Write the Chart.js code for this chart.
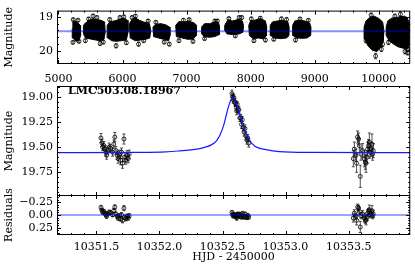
<!DOCTYPE html>
<html lang="en">
<head>
<meta charset="UTF-8">
<title>LMC503.08.18967</title>
<script src="https://cdn.jsdelivr.net/npm/chart.js"></script>
<style>
  html, body { margin: 0; padding: 0; background: #fff; overflow: hidden; }
  #wrap { position: relative; width: 415px; height: 266px; }
  #wrap canvas { position: absolute; left: 0; top: 0; }
</style>
</head>
<body>
<div id="wrap">
  <canvas id="lcFull" width="415" height="266"></canvas>
  <canvas id="lcZoom" width="415" height="266"></canvas>
  <canvas id="lcRes" width="415" height="266"></canvas>
</div>
<script>
// ---- full light curve (HJD - 2450000, magnitude) ----
// each observing season is so dense it reads as a black blob, so it is kept as an outline
const seasonOutlines = [
  [[5215,19.35],[5225,19.15],[5260,19.12],[5300,19.17],[5340,19.25],[5345,19.55],[5320,19.70],[5270,19.72],[5225,19.62]],
  [[5390,19.25],[5420,19.18],[5480,19.10],[5530,19.06],[5600,19.08],[5660,19.10],[5720,19.15],[5730,19.45],[5710,19.66],[5650,19.70],[5580,19.68],[5500,19.65],[5420,19.62],[5392,19.50]],
  [[5760,19.25],[5800,19.15],[5870,19.12],[5950,19.08],[6020,19.04],[6075,19.10],[6085,19.45],[6060,19.68],[5980,19.70],[5900,19.72],[5830,19.70],[5770,19.62]],
  [[6105,19.20],[6150,19.08],[6200,19.02],[6260,19.10],[6330,19.15],[6420,19.20],[6440,19.40],[6425,19.62],[6360,19.66],[6280,19.68],[6200,19.70],[6120,19.62]],
  [[6475,19.30],[6520,19.22],[6600,19.20],[6680,19.24],[6735,19.30],[6740,19.55],[6720,19.70],[6640,19.66],[6560,19.62],[6485,19.58]],
  [[6830,19.25],[6880,19.14],[6960,19.15],[7040,19.13],[7120,19.18],[7155,19.25],[7150,19.55],[7100,19.65],[7020,19.66],[6930,19.62],[6840,19.58]],
  [[7235,19.30],[7280,19.20],[7360,19.20],[7440,19.15],[7500,19.18],[7515,19.30],[7510,19.52],[7440,19.58],[7360,19.60],[7270,19.58],[7238,19.50]],
  [[7595,19.25],[7640,19.10],[7720,19.12],[7800,19.08],[7870,19.12],[7888,19.25],[7880,19.45],[7820,19.50],[7720,19.52],[7630,19.50],[7598,19.40]],
  [[7970,19.25],[8000,19.12],[8060,19.10],[8150,19.05],[8230,19.12],[8250,19.30],[8245,19.55],[8200,19.65],[8120,19.62],[8040,19.64],[7980,19.55]],
  [[8305,19.25],[8340,19.15],[8420,19.12],[8500,19.10],[8580,19.15],[8600,19.30],[8598,19.55],[8560,19.62],[8470,19.64],[8380,19.62],[8310,19.55]],
  [[8655,19.25],[8690,19.12],[8760,19.10],[8840,19.12],[8920,19.18],[8940,19.30],[8935,19.55],[8880,19.62],[8800,19.63],[8720,19.62],[8660,19.55]],
  [[9770,19.30],[9800,19.12],[9860,19.02],[9930,18.98],[10000,19.05],[10060,19.15],[10080,19.40],[10070,19.70],[10030,19.90],[9970,20.02],[9900,19.98],[9830,19.85],[9780,19.65]],
  [[10115,19.30],[10140,19.12],[10200,19.04],[10270,19.02],[10330,19.00],[10400,18.98],[10440,19.02],[10470,19.15],[10470,19.85],[10440,19.95],[10380,19.92],[10300,19.88],[10230,19.80],[10160,19.70],[10118,19.55]]
];
// points sticking out of the blobs
const fullDays = [5225, 5230, 5305, 5320, 5420, 5470, 5540, 5600, 5650, 5700, 5800, 5900, 5960, 6020, 6060,
                  6150, 6200, 6250, 6330, 6400, 6520, 6650, 6730, 6880, 6950, 7040, 7100, 7280, 7440, 7480,
                  7660, 7760, 7820, 7860, 8010, 8050, 8150, 8230, 8360, 8480, 8560, 8700, 8770, 8900,
                  9800, 9880, 9950, 10040, 10060, 10150, 10250, 10337, 10410, 10450, 10460];
const fullMags = [19.75, 19.08, 19.10, 19.72, 19.70, 19.06, 18.98, 19.02, 19.78, 19.74, 19.08, 19.85, 19.02, 19.00, 19.76,
                  19.02, 18.98, 19.80, 19.70, 19.12, 19.16, 19.74, 19.80, 19.70, 19.10, 19.08, 19.72, 19.64, 19.12, 19.12,
                  19.05, 19.56, 19.02, 19.02, 19.06, 19.70, 19.04, 19.68, 19.66, 19.06, 19.08, 19.68, 19.06, 19.10,
                  19.70, 18.95, 20.15, 19.95, 19.80, 19.75, 18.98, 18.92, 20.02, 20.05, 19.96];
const fullErrs = [0.04, 0.04, 0.04, 0.04, 0.05, 0.04, 0.06, 0.05, 0.06, 0.05, 0.05, 0.06, 0.05, 0.05, 0.05,
                  0.05, 0.05, 0.06, 0.05, 0.04, 0.04, 0.05, 0.05, 0.05, 0.05, 0.04, 0.05, 0.04, 0.04, 0.04,
                  0.04, 0.04, 0.05, 0.05, 0.05, 0.05, 0.05, 0.05, 0.04, 0.05, 0.05, 0.05, 0.04, 0.04,
                  0.06, 0.06, 0.08, 0.07, 0.07, 0.06, 0.06, 0.07, 0.07, 0.07, 0.06];
const fullBaseline = 19.42;

// ---- zoom on the event: three nights ----
const hjdA = [10351.536, 10351.544, 10351.549, 10351.559, 10351.567, 10351.575, 10351.581, 10351.591, 10351.601, 10351.612, 10351.628, 10351.638, 10351.646, 10351.654, 10351.665, 10351.672, 10351.680, 10351.691, 10351.699, 10351.707, 10351.718, 10351.725, 10351.733, 10351.744, 10351.752, 10351.760];
const magA = [19.41, 19.46, 19.50, 19.485, 19.52, 19.55, 19.58, 19.535, 19.50, 19.51, 19.55, 19.47, 19.40, 19.535, 19.58, 19.615, 19.57, 19.63, 19.55, 19.66, 19.42, 19.60, 19.63, 19.58, 19.615, 19.57];
const errA = [0.045, 0.035, 0.035, 0.04, 0.035, 0.04, 0.04, 0.035, 0.04, 0.035, 0.04, 0.04, 0.045, 0.04, 0.04, 0.045, 0.04, 0.045, 0.04, 0.05, 0.05, 0.045, 0.04, 0.045, 0.04, 0.04];
const resA = [-0.145, -0.095, -0.055, -0.07, -0.035, -0.005, 0.025, -0.02, -0.055, -0.045, -0.005, -0.085, -0.155, -0.02, 0.025, 0.06, 0.015, 0.075, -0.005, 0.105, -0.135, 0.045, 0.075, 0.025, 0.06, 0.015];

const hjdB = [10352.575, 10352.580, 10352.584, 10352.590, 10352.597, 10352.603, 10352.610, 10352.616, 10352.612, 10352.623, 10352.630, 10352.637, 10352.644, 10352.651, 10352.657, 10352.664, 10352.671, 10352.678, 10352.685, 10352.693, 10352.700, 10352.708];
const magB = [18.97, 19.00, 19.03, 19.01, 19.055, 19.065, 19.105, 19.075, 19.14, 19.13, 19.13, 19.21, 19.21, 19.275, 19.23, 19.305, 19.35, 19.315, 19.39, 19.43, 19.41, 19.46];
const errB = [0.035, 0.03, 0.035, 0.03, 0.035, 0.03, 0.035, 0.03, 0.04, 0.035, 0.03, 0.035, 0.035, 0.04, 0.035, 0.035, 0.04, 0.035, 0.04, 0.04, 0.035, 0.04];
const resB = [-0.05, -0.01, 0.02, -0.01, 0.02, 0.01, 0.03, -0.02, 0.06, 0.01, -0.02, 0.03, 0.00, 0.04, -0.03, 0.02, 0.04, -0.02, 0.03, 0.05, 0.01, 0.04];

const hjdC = [10353.537, 10353.545, 10353.558, 10353.563, 10353.571, 10353.579, 10353.585, 10353.592, 10353.598, 10353.611, 10353.624, 10353.632, 10353.638, 10353.646, 10353.650, 10353.658, 10353.664, 10353.669, 10353.677, 10353.685, 10353.690, 10353.695];
const magC = [19.615, 19.52, 19.58, 19.66, 19.40, 19.42, 19.485, 19.79, 19.57, 19.535, 19.615, 19.65, 19.66, 19.60, 19.52, 19.485, 19.45, 19.55, 19.52, 19.47, 19.57, 19.535];
const errC = [0.08, 0.07, 0.06, 0.09, 0.06, 0.06, 0.07, 0.11, 0.06, 0.07, 0.08, 0.07, 0.09, 0.06, 0.07, 0.06, 0.09, 0.06, 0.07, 0.10, 0.06, 0.07];
const resC = [0.06, -0.035, 0.025, 0.105, -0.155, -0.135, -0.07, 0.235, 0.015, -0.02, 0.06, 0.095, 0.105, 0.045, -0.035, -0.07, -0.105, -0.005, -0.035, -0.085, 0.015, -0.02];

// fitted model
const modelHjd = [10351.18, 10351.80, 10352.05, 10352.16, 10352.25, 10352.32, 10352.37, 10352.41, 10352.45, 10352.48, 10352.51, 10352.54, 10352.565, 10352.58, 10352.595, 10352.62, 10352.649, 10352.68, 10352.714, 10352.754, 10352.846, 10352.95, 10353.20, 10353.99];
const modelMag = [19.555, 19.553, 19.548, 19.538, 19.527, 19.515, 19.498, 19.478, 19.44, 19.38, 19.28, 19.13, 19.035, 19.01, 19.03, 19.11, 19.23, 19.34, 19.43, 19.49, 19.525, 19.545, 19.553, 19.555];

const starName = 'LMC503.08.18967';

// axis ticks
const fullXTicks = [5000, 6000, 7000, 8000, 9000, 10000];
const fullYTicks = [19, 20];
const magTicks = [19.00, 19.25, 19.50, 19.75];
const resTicks = [-0.25, 0, 0.25];
const hjdTicks = [10351.5, 10352.0, 10352.5, 10353.0, 10353.5];

const FULL_X = [4977, 10490], FULL_Y = [18.817, 20.384];
const HJD_X = [10351.1875, 10353.988], MAG_Y = [18.894, 19.985], RES_Y = [-0.394, 0.394];

Chart.defaults.font.family = '"DejaVu Serif", serif';
Chart.defaults.font.size = 11;
Chart.defaults.color = '#000';

function tickSet(majors, step, lo, hi) {
  const out = [];
  for (let k = Math.ceil(lo / step - 1e-6); k <= Math.floor(hi / step + 1e-6); k++) {
    const v = +(k * step).toFixed(6);
    out.push({ value: v, isMajor: majors.some(m => Math.abs(m - v) < step / 100) });
  }
  return out;
}

function axis(range, majors, step, fmt, extra) {
  return Object.assign({
    type: 'linear', min: range[0], max: range[1],
    grid: { display: false, drawTicks: false },
    border: { display: false },
    afterBuildTicks: s => { s.ticks = tickSet(majors, step, range[0], range[1]); },
    ticks: { autoSkip: false, maxRotation: 0, padding: 4,
             callback: (v, i, t) => t[i].isMajor ? fmt(v) : '' }
  }, extra);
}

function yAxis(range, majors, step, fmt, title) {
  return axis(range, majors, step, fmt, {
    reverse: true,
    afterFit: s => { s.width = 57; },
    title: { display: true, text: title, padding: { top: 3, bottom: 0 } }
  });
}

function pts(xs, ys) { return xs.map((x, i) => ({ x: x, y: ys[i] })); }

// box around the axes with inward ticks on all four sides
const frame = {
  id: 'frame',
  afterDraw(chart) {
    const { ctx, chartArea: a, scales: { x, y } } = chart;
    ctx.save();
    ctx.strokeStyle = '#000';
    ctx.lineWidth = 1;
    ctx.strokeRect(a.left + 0.5, a.top + 0.5, a.right - a.left - 1, a.bottom - a.top - 1);
    ctx.beginPath();
    x.ticks.forEach(t => {
      const px = Math.round(x.getPixelForValue(t.value)) + 0.5, len = t.isMajor ? 4 : 2;
      ctx.moveTo(px, a.bottom); ctx.lineTo(px, a.bottom - len);
      ctx.moveTo(px, a.top); ctx.lineTo(px, a.top + len);
    });
    y.ticks.forEach(t => {
      const py = Math.round(y.getPixelForValue(t.value)) + 0.5, len = t.isMajor ? 4 : 2;
      ctx.moveTo(a.left, py); ctx.lineTo(a.left + len, py);
      ctx.moveTo(a.right, py); ctx.lineTo(a.right - len, py);
    });
    ctx.stroke();
    ctx.restore();
  }
};

const errorBars = {
  id: 'errorBars',
  beforeDatasetsDraw(chart) {
    const { ctx, chartArea: a, scales: { x, y } } = chart;
    ctx.save();
    ctx.beginPath();
    ctx.rect(a.left, a.top, a.right - a.left, a.bottom - a.top);
    ctx.clip();
    ctx.strokeStyle = '#222';
    ctx.lineWidth = 0.8;
    chart.data.datasets.forEach(ds => {
      if (!ds.errs) return;
      ds.data.forEach((p, i) => {
        const px = x.getPixelForValue(p.x);
        const y1 = y.getPixelForValue(p.y - ds.errs[i]);
        const y2 = y.getPixelForValue(p.y + ds.errs[i]);
        ctx.beginPath();
        ctx.moveTo(px, y1); ctx.lineTo(px, y2);
        ctx.moveTo(px - 1.5, y1); ctx.lineTo(px + 1.5, y1);
        ctx.moveTo(px - 1.5, y2); ctx.lineTo(px + 1.5, y2);
        ctx.stroke();
      });
    });
    ctx.restore();
  }
};

const nameLabel = {
  id: 'nameLabel',
  afterDraw(chart) {
    const { ctx, chartArea: a } = chart;
    ctx.save();
    ctx.font = 'bold 11px "DejaVu Serif", serif';
    ctx.fillStyle = '#000';
    ctx.textBaseline = 'middle';
    ctx.fillText(starName, a.left + 11, a.top + 5.5);
    ctx.restore();
  }
};

const pointStyle = {
  showLine: false, pointRadius: 2, pointBorderWidth: 0.8,
  pointBorderColor: '#000', pointBackgroundColor: 'rgba(0,0,0,0)', order: 1
};

const common = {
  responsive: false, animation: false, events: [],
  plugins: { legend: { display: false }, tooltip: { enabled: false } }
};

// top: whole light curve
new Chart(document.getElementById('lcFull'), {
  type: 'line',
  data: {
    datasets: [
      { data: [{ x: FULL_X[0], y: fullBaseline }, { x: FULL_X[1], y: fullBaseline }],
        borderColor: 'rgba(0,0,255,0.45)', borderWidth: 2, pointRadius: 0, order: 0 },
      Object.assign({ data: pts(fullDays, fullMags), errs: fullErrs }, pointStyle)
    ].concat(seasonOutlines.map(poly => ({
      data: poly.concat([poly[0]]).map(v => ({ x: v[0], y: v[1] })),
      fill: 'shape', backgroundColor: '#000', borderColor: '#000', borderWidth: 1,
      pointRadius: 0, tension: 0, order: 2
    })))
  },
  options: Object.assign({}, common, {
    layout: { padding: { top: 4, right: 4, bottom: 178, left: 0 } },
    scales: {
      x: axis(FULL_X, fullXTicks, 200, v => String(v), {
        afterFit: s => { s.height = 24; },
        ticks: { autoSkip: false, maxRotation: 0, padding: 9,
                 callback: (v, i, t) => t[i].isMajor ? String(v) : '' }
      }),
      y: yAxis(FULL_Y, fullYTicks, 0.2, v => String(v), 'Magnitude')
    }
  }),
  plugins: [errorBars, frame]
});

// middle: the event
new Chart(document.getElementById('lcZoom'), {
  type: 'line',
  data: {
    datasets: [
      { data: pts(modelHjd, modelMag), borderColor: 'rgb(25,25,255)', borderWidth: 1.2,
        pointRadius: 0, cubicInterpolationMode: 'monotone', order: 0 },
      Object.assign({ data: pts(hjdA, magA), errs: errA }, pointStyle),
      Object.assign({ data: pts(hjdB, magB), errs: errB }, pointStyle),
      Object.assign({ data: pts(hjdC, magC), errs: errC }, pointStyle)
    ]
  },
  options: Object.assign({}, common, {
    layout: { padding: { top: 86, right: 4, bottom: 70, left: 0 } },
    scales: {
      x: axis(HJD_X, hjdTicks, 0.1, v => v.toFixed(1), {
        afterFit: s => { s.height = 0; },
        ticks: { display: false }
      }),
      y: yAxis(MAG_Y, magTicks, 0.05, v => v.toFixed(2), 'Magnitude')
    }
  }),
  plugins: [errorBars, frame, nameLabel]
});

// bottom: residuals
new Chart(document.getElementById('lcRes'), {
  type: 'line',
  data: {
    datasets: [
      { data: [{ x: HJD_X[0], y: 0 }, { x: HJD_X[1], y: 0 }],
        borderColor: 'rgba(0,0,255,0.5)', borderWidth: 1.5, pointRadius: 0, order: 0 },
      Object.assign({ data: pts(hjdA, resA), errs: errA }, pointStyle),
      Object.assign({ data: pts(hjdB, resB), errs: errB }, pointStyle),
      Object.assign({ data: pts(hjdC, resC), errs: errC }, pointStyle)
    ]
  },
  options: Object.assign({}, common, {
    layout: { padding: { top: 195, right: 4, bottom: 0, left: 0 } },
    scales: {
      x: axis(HJD_X, hjdTicks, 0.1, v => v.toFixed(1), {
        afterFit: s => { s.height = 31; },
        ticks: { autoSkip: false, maxRotation: 0, padding: 6,
                 callback: (v, i, t) => t[i].isMajor ? v.toFixed(1) : '' },
        title: { display: true, text: 'HJD - 2450000', padding: { top: 2, bottom: 2 } }
      }),
      y: yAxis(RES_Y, resTicks, 0.05, v => (v < 0 ? '\u2212' + Math.abs(v).toFixed(2) : v.toFixed(2)), 'Residuals')
    }
  }),
  plugins: [errorBars, frame]
});
</script>
</body>
</html>
